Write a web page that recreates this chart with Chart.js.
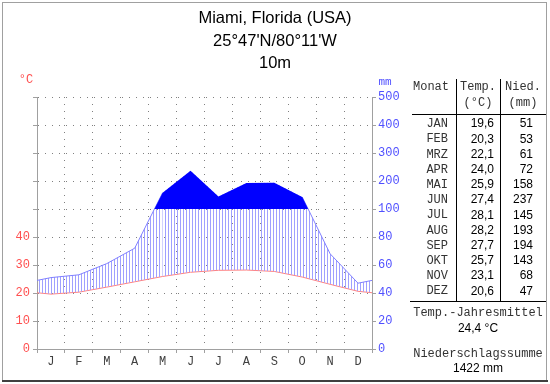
<!DOCTYPE html>
<html>
<head>
<meta charset="utf-8">
<script src="https://cdn.jsdelivr.net/npm/chart.js@4"></script>
<style>
  html, body { margin: 0; padding: 0; background: #fff; }
</style>
</head>
<body>
<canvas id="myChart" width="550" height="384"></canvas>
<script>
var months = ["J", "F", "M", "A", "M", "J", "J", "A", "S", "O", "N", "D"];
var monthNames = ["JAN", "FEB", "MRZ", "APR", "MAI", "JUN", "JUL", "AUG", "SEP", "OKT", "NOV", "DEZ"];
var temperature = [19.6, 20.3, 22.1, 24.0, 25.9, 27.4, 28.1, 28.2, 27.7, 25.7, 23.1, 20.6];
var precipitation = [51, 53, 61, 72, 158, 237, 145, 193, 194, 143, 68, 47];
var tempTicks = [0, 10, 20, 30, 40];
var mmTicks = [0, 20, 40, 60, 80, 100, 200, 300, 400, 500];
var tempMean = "24,4 °C";
var precipSum = "1422 mm";

// mm -> temperature scale (10 °C = 20 mm, above 100 mm: 10 °C = 100 mm)
function mmToUnit(v) {
  return v <= 100 ? v / 2 : 50 + (v - 100) / 10;
}

// points at month centres, closed at both edges with the Dec/Jan mean
function toPoints(values) {
  var edge = (values[0] + values[values.length - 1]) / 2;
  var pts = [{ x: 0, y: edge }];
  values.forEach(function (v, i) { pts.push({ x: i + 0.5, y: v }); });
  pts.push({ x: 12, y: edge });
  return pts;
}

var tempPoints = toPoints(temperature);
var precipPoints = toPoints(precipitation).map(function (p) {
  return { x: p.x, y: mmToUnit(p.y) };
});

var canvas = document.getElementById("myChart");
var ctx = canvas.getContext("2d");

// vertical hatch for the humid period
var pc = document.createElement("canvas");
pc.width = 3;
pc.height = 1;
var pctx = pc.getContext("2d");
pctx.fillStyle = "#a0a0ff";
pctx.fillRect(0, 0, 1, 1);
var hatch = ctx.createPattern(pc, "repeat");

var mono = "Liberation Mono";
var sans = "Liberation Sans";

var textPlugin = {
  id: "texts",
  afterDraw: function (chart) {
    var c = chart.ctx;
    c.save();
    // frame
    c.strokeStyle = "#a0a0a0";
    c.lineWidth = 1;
    c.strokeRect(2.5, 2.5, 544, 378);
    c.strokeStyle = "#404040";
    c.lineWidth = 2;
    c.beginPath();
    c.moveTo(2, 381);
    c.lineTo(548, 381);
    c.stroke();

    // title
    c.fillStyle = "#000";
    c.textAlign = "center";
    c.textBaseline = "middle";
    c.font = "16.5px " + sans;
    c.fillText("Miami, Florida (USA)", 275, 18);
    c.fillText("25°47'N/80°11'W", 275, 41);
    c.fillText("10m", 275, 63);

    // units
    c.font = "12px " + mono;
    c.fillStyle = "#ff5050";
    c.fillText("°C", 26, 80);
    c.font = "11px " + mono;
    c.fillStyle = "#5050ff";
    c.fillText("mm", 385, 82);

    // table
    c.strokeStyle = "#000";
    c.lineWidth = 1;
    c.beginPath();
    c.moveTo(456.5, 79); c.lineTo(456.5, 301);
    c.moveTo(500.5, 79); c.lineTo(500.5, 301);
    c.moveTo(412, 114.5); c.lineTo(546, 114.5);
    c.moveTo(410, 301.5); c.lineTo(546, 301.5);
    c.stroke();

    c.font = "12px " + mono;
    c.fillStyle = "#333";
    c.textAlign = "center";
    c.fillText("Monat", 431, 87);
    c.fillText("Temp.", 478, 87);
    c.fillText("(°C)", 478, 103);
    c.fillText("Nied.", 523, 87);
    c.fillText("(mm)", 523, 103);

    for (var i = 0; i < 12; i++) {
      var y = 124 + i * 15.2;
      c.font = "12px " + mono;
      c.fillStyle = "#333";
      c.textAlign = "right";
      c.fillText(monthNames[i], 448, y);
      c.font = "12px " + sans;
      c.fillStyle = "#000";
      c.fillText(temperature[i].toFixed(1).replace(".", ","), 494, y);
      c.fillText(String(precipitation[i]), 533, y);
    }

    c.textAlign = "center";
    c.font = "12px " + mono;
    c.fillStyle = "#333";
    c.fillText("Temp.-Jahresmittel", 478, 313);
    c.fillText("Niederschlagssumme", 478, 354);
    c.font = "12px " + sans;
    c.fillStyle = "#000";
    c.fillText(tempMean, 478, 329);
    c.fillText(precipSum, 478, 369);
    c.restore();
  }
};

var myChart = new Chart(ctx, {
  type: "line",
  data: {
    datasets: [
      {
        label: "Niederschlag > 100 mm",
        data: precipPoints,
        borderColor: "transparent",
        borderWidth: 1,
        pointRadius: 0,
        tension: 0,
        fill: { target: { value: 50 }, above: "#0000ff", below: "transparent" },
      },
      {
        label: "Niederschlag",
        data: precipPoints,
        borderColor: "#8080ff",
        borderWidth: 1,
        pointRadius: 0,
        tension: 0,
        segment: {
          borderColor: function (s) {
            return s.p0.parsed.y >= 50 && s.p1.parsed.y >= 50 ? "transparent" : undefined;
          },
        },
        fill: { target: 2, above: hatch, below: "transparent" },
      },
      {
        label: "Temperatur",
        data: tempPoints,
        borderColor: "#ff8080",
        borderWidth: 1,
        pointRadius: 0,
        tension: 0,
        fill: false,
      },
    ],
  },
  options: {
    responsive: false,
    animation: false,
    events: [],
    layout: {
      padding: { left: 0, right: 148, top: 97, bottom: 0 },
    },
    plugins: {
      legend: { display: false },
      tooltip: { enabled: false },
    },
    scales: {
      x: {
        type: "linear",
        min: 0,
        max: 12,
        afterBuildTicks: function (axis) {
          var t = [];
          for (var i = 0; i <= 24; i++) t.push({ value: i / 2 });
          axis.ticks = t;
        },
        afterFit: function (axis) { axis.height = 35; },
        ticks: {
          autoSkip: false,
          maxRotation: 0,
          padding: 2,
          color: "#404040",
          font: { family: mono, size: 12 },
          callback: function (value) {
            return value % 1 ? months[Math.floor(value)] : "";
          },
        },
        grid: {
          color: function (c) { return c.tick && c.tick.value % 1 === 0 ? "#808080" : "transparent"; },
          tickColor: function (c) { return c.tick && c.tick.value % 1 === 0 ? "#a0a0a0" : "transparent"; },
          tickLength: 4,
          tickBorderDash: [],
        },
        border: { color: "#a0a0a0", dash: [1, 6] },
      },
      y: {
        type: "linear",
        position: "left",
        min: 0,
        max: 90,
        afterBuildTicks: function (axis) {
          var t = [];
          for (var v = 0; v <= 90; v += 10) t.push({ value: v });
          axis.ticks = t;
        },
        afterFit: function (axis) { axis.width = 37; },
        ticks: {
          padding: 3,
          color: "#ff5050",
          font: { family: mono, size: 12 },
          callback: function (value) {
            return tempTicks.indexOf(value) >= 0 ? String(value) : "";
          },
        },
        grid: {
          color: "#808080",
          tickColor: "#a0a0a0",
          tickLength: 4,
          tickBorderDash: [],
        },
        border: { color: "#a0a0a0", dash: [1, 6] },
      },
      y2: {
        type: "linear",
        position: "right",
        min: 0,
        max: 90,
        afterBuildTicks: function (axis) {
          axis.ticks = mmTicks.map(function (v) { return { value: mmToUnit(v) }; });
        },
        afterFit: function (axis) { axis.width = 30; },
        ticks: {
          padding: 2,
          color: "#5050ff",
          font: { family: mono, size: 12 },
          callback: function (value, index) {
            return String(mmTicks[index]);
          },
        },
        grid: {
          drawOnChartArea: false,
          tickColor: "#a0a0a0",
          tickLength: 4,
        },
        border: { color: "#a0a0a0" },
      },
    },
  },
  plugins: [textPlugin],
});
</script>
</body>
</html>
